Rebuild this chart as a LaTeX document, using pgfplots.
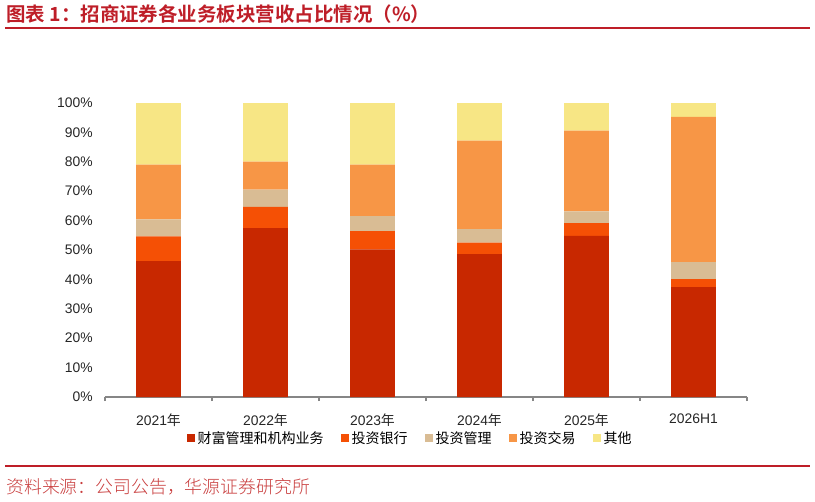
\documentclass[border=0pt]{standalone}
\usepackage{fontspec}
\usepackage{pgfplots}
\usepackage{pgfplotstable}
\pgfplotsset{compat=1.18}
\setmainfont{Liberation Sans}
\newfontfamily\cjk{Noto Sans CJK SC}
\newfontfamily\cjkb{Noto Sans CJK SC Bold}
\newfontfamily\cjkl{Noto Sans CJK SC Light}

\definecolor{cWealth}{RGB}{200,40,0}
\definecolor{cIB}{RGB}{245,80,5}
\definecolor{cAM}{RGB}{217,188,148}
\definecolor{cTrade}{RGB}{247,150,70}
\definecolor{cOther}{RGB}{247,230,133}
\definecolor{titlered}{RGB}{190,30,40}
\definecolor{srcred}{RGB}{200,60,60}
\definecolor{axgray}{RGB}{134,134,134}

% shares in percent, one row per period
\pgfplotstableread{
x wealth ib am trade other
0 46.2 8.4 5.8 18.6 21.0
1 57.4 7.3 5.8 9.6 19.9
2 50.2 6.2 5.1 17.5 21.0
3 48.6 3.9 4.6 30.1 12.8
4 54.8 4.3 4.0 27.5 9.4
5 37.4 2.7 5.8 49.4 4.7
}\shares

\begin{document}
\begin{tikzpicture}
\begin{scope}[x=0.75pt,y=0.75pt]
\useasboundingbox (0,0) rectangle (815,501);
% title and rules
\node[anchor=west,inner sep=0pt,text=titlered] at (6,487)
  {\cjkb\fontsize{14.6pt}{17pt}\selectfont 图表 1：招商证券各业务板块营收占比情况（\%）};
\draw[titlered,line width=1.5pt] (5,473) -- (810,473);
\draw[titlered,line width=1.5pt] (5,35) -- (810,35);
\node[anchor=west,inner sep=0pt,text=srcred] at (6,14)
  {\cjkl\fontsize{13.4pt}{16pt}\selectfont 资料来源：公司公告，华源证券研究所};
\end{scope}

\begin{axis}[
    at={(78.75pt,78pt)}, anchor=south west,
    scale only axis, width=481.5pt, height=220.5pt,
    ybar stacked, bar width=0.42,
    xmin=-0.5, xmax=5.5, ymin=0, ymax=100,
    enlargelimits=false,
    axis lines*=left,
    y axis line style={draw=none},
    x axis line style={axgray,line width=0.8pt},
    xtick={0,...,5},
    xticklabels={2021{\cjk 年},2022{\cjk 年},2023{\cjk 年},2024{\cjk 年},2025{\cjk 年},2026H1},
    major x tick style={draw=none},
    minor xtick={-0.5,0.5,...,5.5},
    minor x tick style={axgray,line width=0.8pt},
    minor tick length=3pt,
    tick align=outside,
    ytick={0,10,...,100},
    yticklabels={0\%,10\%,20\%,30\%,40\%,50\%,60\%,70\%,80\%,90\%,100\%},
    major y tick style={draw=none},
    yticklabel style={xshift=-1.5pt},
    xticklabel style={yshift=-5pt},
    tick label style={font=\fontsize{10.4pt}{12pt}\selectfont, text=black!85},
    legend style={at={(0.476,-0.14)}, anchor=center, draw=none,
      font=\cjk\fontsize{10.5pt}{12pt}\selectfont,
      /tikz/every even column/.append style={column sep=11pt}},
    legend columns=5,
    legend image code/.code={\fill[#1] (0pt,-3pt) rectangle (6pt,3pt);},
  ]
  \addplot[fill=cWealth,draw=none] table[x=x,y=wealth]{\shares};
  \addplot[fill=cIB,draw=none] table[x=x,y=ib]{\shares};
  \addplot[fill=cAM,draw=none] table[x=x,y=am]{\shares};
  \addplot[fill=cTrade,draw=none] table[x=x,y=trade]{\shares};
  \addplot[fill=cOther,draw=none] table[x=x,y=other]{\shares};
  \legend{财富管理和机构业务,投资银行,投资管理,投资交易,其他}
\end{axis}
\end{tikzpicture}
\end{document}
